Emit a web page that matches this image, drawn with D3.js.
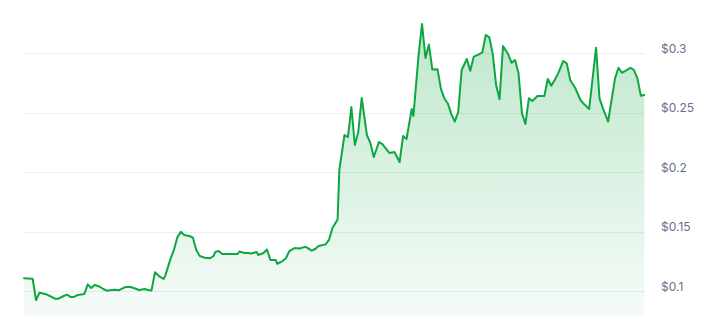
<!DOCTYPE html>
<html>
<head>
<meta charset="utf-8">
<script src="https://cdn.jsdelivr.net/npm/d3@7"></script>
<style>
  html, body { margin: 0; padding: 0; background: #fff; }
  svg { display: block; }
</style>
</head>
<body>
<svg id="chart" width="708" height="316"></svg>
<script>
// time steps (half-day index) and prices in USD
const steps = [0,5,7,9,13,15,18,20,23,25,27,29,31,35,37,39,41,44,46,48,51,53,55,59,62,66,67,70,72,74,
  76,79,81,82,85,87,89,91,93,96,98,100,102,105,108,110,111,113,115,118,121,124,125,128,130,132,135,136,139,141,
  143,146,147,150,152,154,157,160,163,164,167,169,171,175,177,179,182,183,186,188,190,192,194,196,199,201,203,206,208,212,
  215,218,220,222,225,226,229,231,233,235,237,240,242,244,246,248,250,252,254,257,259,261,264,266,268,270,272,274,276,278,
  281,283,285,287,289,291,293,295,298,302,304,306,308,310,313,315,317,320,323,325,328,332,334,336,339,343,345,347,349,352,
  354,356,358,360];
const prices = [0.1107,0.1103,0.0924,0.0986,0.0972,0.0958,0.0935,0.0935,0.0958,0.0969,0.0950,0.0950,0.0966,0.0975,0.1056,0.1025,0.1050,0.1036,0.1017,0.1003,0.1008,0.1011,0.1006,0.1034,0.1034,0.1013,0.1008,0.1017,0.1008,0.1004,
  0.1157,0.1118,0.1101,0.1129,0.1269,0.1345,0.1451,0.1498,0.1471,0.1462,0.1448,0.1345,0.1294,0.1280,0.1275,0.1294,0.1328,0.1336,0.1311,0.1311,0.1311,0.1311,0.1332,0.1319,0.1319,0.1315,0.1328,0.1303,0.1319,0.1349,
  0.1261,0.1261,0.1229,0.1252,0.1275,0.1336,0.1361,0.1357,0.1371,0.1367,0.1339,0.1353,0.1378,0.1392,0.1429,0.1529,0.1601,0.2017,0.2311,0.2294,0.2546,0.2227,0.2336,0.2622,0.2311,0.2244,0.2126,0.2252,0.2235,0.2160,
  0.2168,0.2084,0.2303,0.2277,0.2529,0.2471,0.2983,0.3244,0.2958,0.3071,0.2861,0.2863,0.2697,0.2618,0.2576,0.2487,0.2424,0.2504,0.2857,0.2950,0.2851,0.2969,0.2989,0.3006,0.3151,0.3134,0.2997,0.2731,0.2611,0.3059,
  0.2989,0.2918,0.2941,0.2829,0.2493,0.2403,0.2619,0.2597,0.2639,0.2639,0.2782,0.2725,0.2773,0.2829,0.2933,0.2913,0.2773,0.2703,0.2605,0.2571,0.2529,0.3045,0.2619,0.2535,0.2423,0.2787,0.2876,0.2834,0.2849,0.2876,
  0.2857,0.2787,0.2641,0.2647];
const tickValues = [0.1, 0.15, 0.2, 0.25, 0.3];
const tickLabels = ["$0.1", "$0.15", "$0.2", "$0.25", "$0.3"];

const data = steps.map((s, i) => ({ t: s, v: prices[i] }));

const svg = d3.select("#chart");
const plotLeft = 24, plotRight = 644.3, plotBottom = 316;

const x = d3.scaleLinear().domain([0, 360]).range([plotLeft, plotRight]);
const y = d3.scaleLinear().domain([0.1, 0.3]).range([291, 53]);

const green = "#0ea641";

const defs = svg.append("defs");
const grad = defs.append("linearGradient")
  .attr("id", "fillGrad")
  .attr("gradientUnits", "userSpaceOnUse")
  .attr("x1", 0).attr("x2", 0)
  .attr("y1", y(d3.max(prices))).attr("y2", plotBottom);
grad.append("stop").attr("offset", "0%").attr("stop-color", green).attr("stop-opacity", 0.27);
grad.append("stop").attr("offset", "100%").attr("stop-color", green).attr("stop-opacity", 0.04);

// grid lines
svg.append("g")
  .selectAll("line")
  .data(tickValues)
  .join("line")
  .attr("x1", plotLeft).attr("x2", 645)
  .attr("y1", d => Math.round(y(d)) + 0.5).attr("y2", d => Math.round(y(d)) + 0.5)
  .attr("stroke", "#eceef2")
  .attr("stroke-width", 1);

// area
const area = d3.area()
  .x(d => x(d.t))
  .y0(plotBottom)
  .y1(d => y(d.v));
svg.append("path")
  .datum(data)
  .attr("d", area)
  .attr("fill", "url(#fillGrad)");

// line
const line = d3.line()
  .x(d => x(d.t))
  .y(d => y(d.v));
svg.append("path")
  .datum(data)
  .attr("d", line)
  .attr("fill", "none")
  .attr("stroke", green)
  .attr("stroke-width", 2)
  .attr("stroke-linejoin", "round")
  .attr("stroke-linecap", "round");

// right axis labels
const axis = d3.axisRight(y)
  .tickValues(tickValues)
  .tickFormat((d, i) => tickLabels[i])
  .tickSize(0)
  .tickPadding(0);
const gAxis = svg.append("g")
  .attr("transform", `translate(661,-5)`)
  .call(axis);
gAxis.select(".domain").remove();
gAxis.selectAll("text")
  .attr("font-family", "Inter, 'Noto Sans', sans-serif")
  .attr("font-size", 12)
  .attr("fill", "#66718a")
  .attr("x", 0)
  .attr("dy", "0.35em");
</script>
</body>
</html>
